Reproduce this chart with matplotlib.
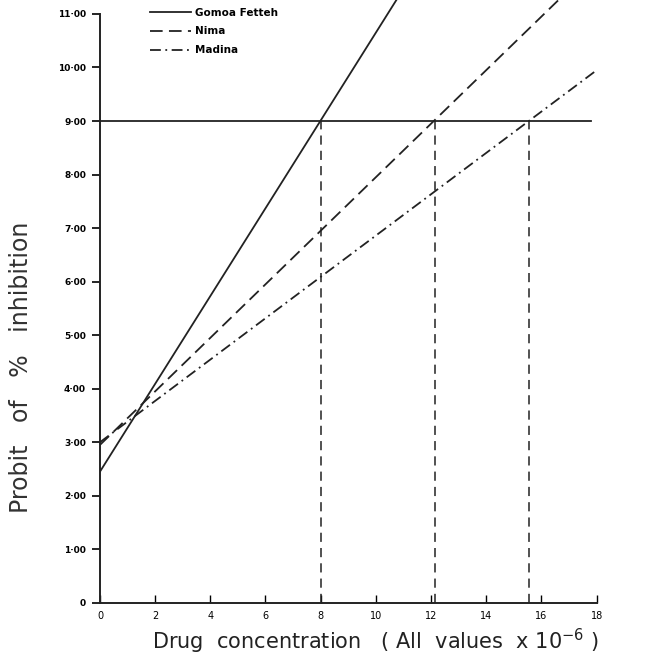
import numpy as np
import matplotlib.pyplot as plt

# probit lines: value at x=0 and slope
series = ['Gomoa Fetteh', 'Nima', 'Madina']
intercepts = [2.45, 2.95, 3.0]
slopes = [0.82, 0.50, 0.386]
x_end = [11.5, 17.0, 18.0]
styles = ['-', (0, (7, 3.5)), (0, (6, 2.5, 1, 2.5))]

# concentrations where each line reaches probit 9
ec_values = [8.0, 12.15, 15.55]
probit_level = 9.0

yticks = [0, 1, 2, 3, 4, 5, 6, 7, 8, 9, 10, 11]
ytick_labels = ['0', '1·00', '2·00', '3·00', '4·00', '5·00', '6·00',
                '7·00', '8·00', '9·00', '10·00', '11·00']
xticks = [0, 2, 4, 6, 8, 10, 12, 14, 16, 18]

fig = plt.figure(figsize=(6.49, 6.56), dpi=100)
ax = fig.add_axes([0.154, 0.081, 0.778, 0.919])

for name, b, m, xe, ls in zip(series, intercepts, slopes, x_end, styles):
    xs = np.array([0, xe])
    ax.plot(xs, b + m * xs, color='#222222', lw=1.3, linestyle=ls, label=name)

ax.plot([0, 17.8], [probit_level, probit_level], color='#222222', lw=1.3)
for xv in ec_values:
    ax.plot([xv, xv], [0, probit_level], color='#222222', lw=1.1,
            linestyle=(0, (6, 4)))

ax.set_xlim(0, 18.3)
ax.set_ylim(0, 11.26)
ax.spines['top'].set_visible(False)
ax.spines['right'].set_visible(False)
ax.spines['left'].set_bounds(0, 11)
ax.spines['bottom'].set_bounds(0, 18)
for s in ['left', 'bottom']:
    ax.spines[s].set_linewidth(1.4)
    ax.spines[s].set_color('#222222')

ax.set_yticks(yticks)
ax.set_yticklabels(ytick_labels, fontsize=6.5, fontweight='bold')
ax.set_xticks(xticks)
ax.set_xticklabels([str(v) for v in xticks], fontsize=7)
ax.tick_params(axis='y', direction='out', length=6, width=1.2, pad=4)
ax.tick_params(axis='x', direction='in', length=6, width=1.0, pad=6)

fig.text(0.032, 0.44, 'Probit   of   %   inhibition', rotation=90,
         ha='center', va='center', fontsize=17, color='#333333')
fig.text(0.578, 0.0, 'Drug  concentration   ( All  values  x $10^{-6}$ )',
         ha='center', va='bottom', fontsize=15, color='#222222')

ax.legend(loc='upper left', bbox_to_anchor=(0.08, 1.003), frameon=False,
          handlelength=4.0, handletextpad=0.3, labelspacing=0.85,
          prop={'size': 7.5, 'weight': 'bold'})

fig.savefig('out.png', dpi=100)
